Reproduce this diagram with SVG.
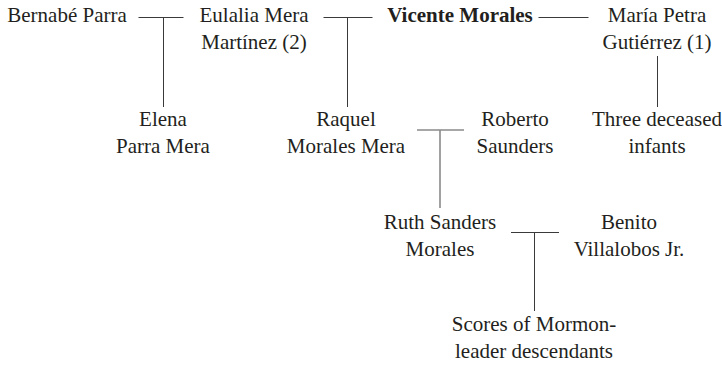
<svg xmlns="http://www.w3.org/2000/svg" width="722" height="365" viewBox="0 0 722 365">
<style>
text{font-family:"Liberation Serif",serif;font-size:21px;fill:#231f20;text-anchor:middle}
.b{font-weight:bold}
.l{stroke:#3a3a3a;stroke-width:1;fill:none}
.g{stroke:#8a8a8a;stroke-width:1.6;fill:none}
</style>
<rect width="722" height="365" fill="#fff"/>
<g id="connectors">
<path class="l" d="M138.5 17.5H183.5M163.5 17.5V107"/>
<path class="l" d="M323.5 17.5H372.5M347.5 17.5V107"/>
<path class="l" d="M538.5 17.5H588.5"/>
<path class="l" d="M657.5 56V107"/>
<path class="g" d="M417 130H464M440 130V208"/>
<path class="l" d="M511 232.5H559M534.5 232.5V311"/>
</g>
<g id="bernabe"><text x="67" y="22" font-family="Liberation Serif">Bernabé Parra</text></g>
<g id="eulalia"><text x="254" y="22" font-family="Liberation Serif">Eulalia Mera</text><text x="254" y="49" font-family="Liberation Serif">Martínez (2)</text></g>
<g id="vicente"><text class="b" x="460" y="22" font-family="Liberation Serif">Vicente Morales</text></g>
<g id="maria"><text x="657" y="22" font-family="Liberation Serif">María Petra</text><text x="657" y="49" font-family="Liberation Serif">Gutiérrez (1)</text></g>
<g id="elena"><text x="163" y="126" font-family="Liberation Serif">Elena</text><text x="163" y="153" font-family="Liberation Serif">Parra Mera</text></g>
<g id="raquel"><text x="346" y="126" font-family="Liberation Serif">Raquel</text><text x="346" y="153" font-family="Liberation Serif">Morales Mera</text></g>
<g id="roberto"><text x="515" y="126" font-family="Liberation Serif">Roberto</text><text x="515" y="153" font-family="Liberation Serif">Saunders</text></g>
<g id="infants"><text x="657" y="126" font-family="Liberation Serif">Three deceased</text><text x="657" y="153" font-family="Liberation Serif">infants</text></g>
<g id="ruth"><text x="440" y="229" font-family="Liberation Serif">Ruth Sanders</text><text x="440" y="256" font-family="Liberation Serif">Morales</text></g>
<g id="benito"><text x="629" y="229" font-family="Liberation Serif">Benito</text><text x="629" y="256" font-family="Liberation Serif">Villalobos Jr.</text></g>
<g id="scores"><text x="534" y="331" font-family="Liberation Serif">Scores of Mormon-</text><text x="534" y="358" font-family="Liberation Serif">leader descendants</text></g>
</svg>
